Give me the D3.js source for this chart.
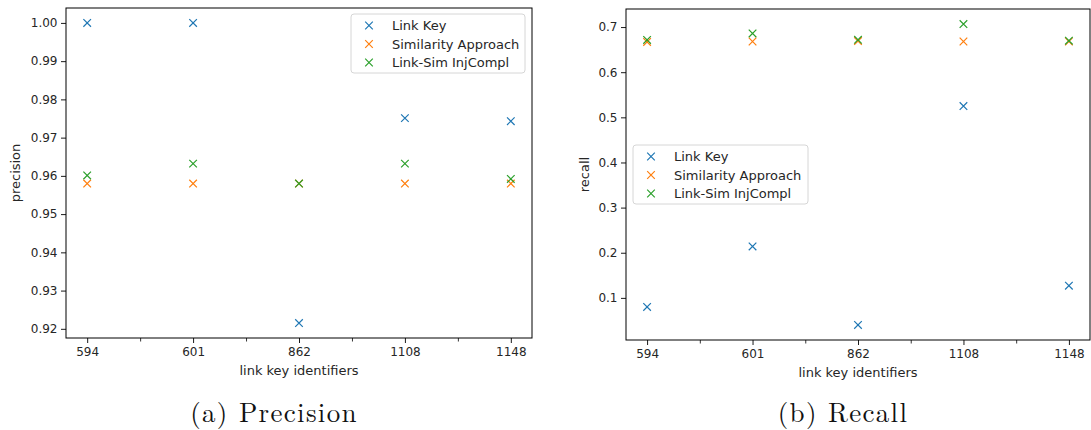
<!DOCTYPE html>
<html>
<head>
<meta charset="utf-8">
<script src="https://cdn.jsdelivr.net/npm/d3@7"></script>
<style>
  body { margin: 0; background: #fff; }
  svg text { font-family: "DejaVu Sans", sans-serif; fill: #262626; }
  .caption { font-family: "Latin Modern Roman", "Liberation Serif", serif; fill: #111; }
</style>
</head>
<body>
<div id="container"></div>
<script>
const identifiers = ["594", "601", "862", "1108", "1148"];
const seriesNames = ["Link Key", "Similarity Approach", "Link-Sim InjCompl"];
const colors = ["#1f77b4", "#ff7f0e", "#2ca02c"];

// precision values per series
const precisionLinkKey = [1.0, 1.0, 0.9215, 0.9751, 0.9743];
const precisionSimilarity = [0.958, 0.958, 0.958, 0.958, 0.958];
const precisionLinkSim = [0.9601, 0.9632, 0.958, 0.9632, 0.9592];

// recall values per series
const recallLinkKey = [0.080, 0.214, 0.040, 0.525, 0.127];
const recallSimilarity = [0.667, 0.668, 0.669, 0.668, 0.668];
const recallLinkSim = [0.6715, 0.6858, 0.6717, 0.7066, 0.6697];

const precisionTicks = [0.92, 0.93, 0.94, 0.95, 0.96, 0.97, 0.98, 0.99, 1.00];
const recallTicks = [0.1, 0.2, 0.3, 0.4, 0.5, 0.6, 0.7];

const width = 1091;
const height = 430;

const svg = d3.select("#container").append("svg")
    .attr("width", width)
    .attr("height", height);

function drawPanel(opts) {
    const x = d3.scaleLinear()
        .domain([-0.2, identifiers.length - 1 + 0.2])
        .range([opts.left, opts.right]);

    const y = d3.scaleLinear()
        .domain(opts.yDomain)
        .range([opts.bottom, opts.top]);

    const g = svg.append("g");

    // y axis
    g.append("g")
        .attr("transform", `translate(${opts.left},0)`)
        .call(d3.axisLeft(y).tickValues(opts.yTicks).tickFormat(d3.format(opts.fmt))
            .tickSize(5).tickPadding(3.5))
        .call(a => a.select(".domain").remove())
        .call(a => a.selectAll("text").style("font-size", "12px").style("fill", "#262626"))
        .call(a => a.selectAll("line").attr("stroke", "#000").attr("stroke-width", 0.9));

    // x axis, major ticks at categories
    g.append("g")
        .attr("transform", `translate(0,${opts.bottom})`)
        .call(d3.axisBottom(x).tickValues(d3.range(identifiers.length))
            .tickFormat(i => identifiers[i]).tickSize(5).tickPadding(4))
        .call(a => a.select(".domain").remove())
        .call(a => a.selectAll("text").style("font-size", "12px").style("fill", "#262626"))
        .call(a => a.selectAll("line").attr("stroke", "#000").attr("stroke-width", 0.9));

    // minor ticks in between
    g.append("g")
        .attr("transform", `translate(0,${opts.bottom})`)
        .call(d3.axisBottom(x).tickValues(d3.range(identifiers.length - 1).map(i => i + 0.5))
            .tickFormat("").tickSize(3.5))
        .call(a => a.select(".domain").remove())
        .call(a => a.selectAll("line").attr("stroke", "#000").attr("stroke-width", 0.8));

    // frame
    g.append("rect")
        .attr("x", opts.left).attr("y", opts.top)
        .attr("width", opts.right - opts.left)
        .attr("height", opts.bottom - opts.top)
        .attr("fill", "none")
        .attr("stroke", "#000")
        .attr("stroke-width", 1);

    // markers
    const r = 3.8;
    opts.series.forEach((vals, s) => {
        g.append("g").selectAll("path")
            .data(vals)
            .join("path")
            .attr("d", (v, i) => {
                const cx = x(i), cy = y(v);
                return `M${cx - r},${cy - r}L${cx + r},${cy + r}M${cx - r},${cy + r}L${cx + r},${cy - r}`;
            })
            .attr("stroke", colors[s])
            .attr("stroke-width", 1.2)
            .attr("fill", "none");
    });

    // axis labels
    g.append("text")
        .attr("x", (opts.left + opts.right) / 2)
        .attr("y", opts.bottom + 37)
        .attr("text-anchor", "middle")
        .style("font-size", "13px")
        .text("link key identifiers");

    g.append("text")
        .attr("transform", `translate(${opts.ylabelX},${(opts.top + opts.bottom) / 2}) rotate(-90)`)
        .attr("text-anchor", "middle")
        .style("font-size", "13px")
        .text(opts.ylabel);

    // legend
    const lg = g.append("g").attr("transform", `translate(${opts.legend.x},${opts.legend.y})`);
    lg.append("rect")
        .attr("width", opts.legend.w).attr("height", 59)
        .attr("rx", 3)
        .attr("fill", "#fff").attr("fill-opacity", 0.8)
        .attr("stroke", "#d6d6d6");
    seriesNames.forEach((name, s) => {
        const ey = 11.5 + s * 18.5;
        lg.append("path")
            .attr("d", `M${18 - r},${ey - r}L${18 + r},${ey + r}M${18 - r},${ey + r}L${18 + r},${ey - r}`)
            .attr("stroke", colors[s]).attr("stroke-width", 1.2);
        lg.append("text")
            .attr("x", 41).attr("y", ey + 4.6)
            .style("font-size", "13px")
            .text(name);
    });

    // caption
    svg.append("text")
        .attr("class", "caption")
        .attr("x", opts.captionX)
        .attr("y", 422)
        .attr("text-anchor", "middle")
        .style("font-size", "27px")
        .style("letter-spacing", "1.3px")
        .text(opts.caption);
}

drawPanel({
    left: 66, right: 532, top: 8, bottom: 338,
    yDomain: [0.9176, 1.0039], yTicks: precisionTicks, fmt: ".2f",
    series: [precisionLinkKey, precisionSimilarity, precisionLinkSim],
    ylabel: "precision", ylabelX: 20,
    legend: { x: 351, y: 14, w: 174 },
    caption: "(a) Precision", captionX: 274
});

drawPanel({
    left: 626, right: 1090, top: 9, bottom: 340,
    yDomain: [0.0067, 0.7400], yTicks: recallTicks, fmt: ".1f",
    series: [recallLinkKey, recallSimilarity, recallLinkSim],
    ylabel: "recall", ylabelX: 589,
    legend: { x: 633, y: 145, w: 175 },
    caption: "(b) Recall", captionX: 843
});
</script>
</body>
</html>
